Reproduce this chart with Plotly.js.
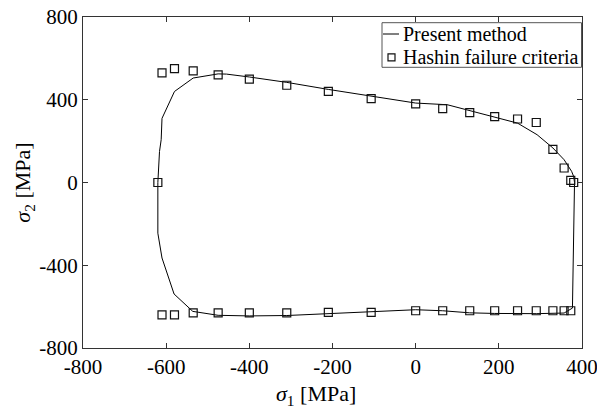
<!DOCTYPE html>
<html>
<head>
<meta charset="utf-8">
<script src="https://cdn.plot.ly/plotly-3.0.1.min.js"></script>
<style>html,body{margin:0;padding:0;background:#fff}#chart{width:597px;height:410px}</style>
</head>
<body>
<div id="chart"></div>
<script>
// Present method (closed failure envelope)
const methodX = [-620, -616, -612, -610, -580, -535, -475, -455, -400, -310, -210, -107, 0, 76, 130, 190, 245, 292, 330, 357, 375, 380, 382, 377, 357, 290, 245, 190, 130, 65, 0, -107, -210, -310, -400, -475, -536, -581, -610, -620, -620];
const methodY = [0, 150, 207, 310, 440, 505, 525, 524, 510, 484, 450, 416, 384, 376, 348, 319, 287, 231, 167, 110, 54, 29, 0, -607, -631, -634, -634, -633, -630, -620, -615, -624, -636, -643, -645, -642, -623, -539, -365, -245, 0];

// Hashin failure criteria points
const hashinTopX = [-610, -580, -535, -475, -400, -310, -210, -107, 0, 65, 130, 190, 245, 290, 330, 357, 373, 380];
const hashinTopY = [530, 550, 540, 520, 500, 470, 440, 405, 380, 357, 338, 318, 307, 290, 160, 70, 10, 0];
const hashinLeftX = [-620];
const hashinLeftY = [0];
const hashinBotX = [-610, -580, -535, -475, -400, -310, -210, -107, 0, 65, 130, 190, 245, 290, 330, 357, 373];
const hashinBotY = [-640, -640, -630, -630, -630, -630, -628, -628, -620, -620, -620, -620, -620, -620, -620, -620, -620];

const hashinX = hashinTopX.concat(hashinLeftX, hashinBotX);
const hashinY = hashinTopY.concat(hashinLeftY, hashinBotY);

const xTicks = [-800, -600, -400, -200, 0, 200, 400];
const yTicks = [-800, -400, 0, 400, 800];
const seriesNames = ['Present method', 'Hashin failure criteria'];

const fam = '"Liberation Serif", "Times New Roman", serif';
const tickFont = {family: fam, size: 21, color: '#000'};
const titleFont = {family: fam, size: 22, color: '#000'};
const legFont = {family: fam, size: 20, color: '#000'};

// plot-area geometry (pixels) used to place the hand-made legend
const W = 597, H = 410, ML = 83, MR = 15, MT = 17, MB = 62;
const PW = W - ML - MR, PH = H - MT - MB;
const px = v => (v - ML) / PW;
const py = v => (H - MB - v) / PH;

const traces = [
  {x: methodX, y: methodY, mode: 'lines', name: seriesNames[0],
   line: {color: '#000', width: 1}},
  {x: hashinX, y: hashinY, mode: 'markers', name: seriesNames[1],
   marker: {symbol: 'square-open', size: 8, color: '#111', line: {width: 1.2}}}
];

const axisCommon = {
  showline: true, mirror: 'ticks', linecolor: '#333', linewidth: 1,
  ticks: 'inside', ticklen: 5, tickcolor: '#333',
  showgrid: false, zeroline: false, tickfont: tickFont,
  ticklabeloverflow: 'allow'
};

const layout = {
  width: W, height: H,
  margin: {l: ML, r: MR, t: MT, b: MB},
  paper_bgcolor: '#fff', plot_bgcolor: '#fff',
  font: tickFont,
  showlegend: false,
  xaxis: Object.assign({}, axisCommon, {
    range: [-800, 400], tickvals: xTicks, ticktext: xTicks.map(String)
  }),
  yaxis: Object.assign({}, axisCommon, {
    range: [-800, 800], tickvals: yTicks, ticktext: yTicks.map(String),
    title: {text: '<i>σ</i><sub>2</sub> [MPa]', font: titleFont, standoff: 2}
  }),
  shapes: [
    {type: 'rect', xref: 'paper', yref: 'paper', x0: px(382), x1: px(581.5), y0: py(67.3), y1: py(22.7),
     line: {color: '#555', width: 1}, fillcolor: '#fff', layer: 'above'},
    {type: 'line', xref: 'paper', yref: 'paper', x0: px(383), x1: px(399), y0: py(34), y1: py(34),
     line: {color: '#000', width: 1}, layer: 'above'},
    {type: 'rect', xref: 'paper', yref: 'paper', x0: px(388), x1: px(395), y0: py(60.8), y1: py(53.8),
     line: {color: '#111', width: 1.2}, layer: 'above'}
  ],
  annotations: [
    {text: seriesNames[0], xref: 'paper', yref: 'paper', x: px(401), y: py(34),
     xanchor: 'left', yanchor: 'middle', showarrow: false, font: legFont},
    {text: seriesNames[1], xref: 'paper', yref: 'paper', x: px(401), y: py(57.3),
     xanchor: 'left', yanchor: 'middle', showarrow: false, font: legFont},
    {text: '<i>σ</i><sub>1</sub> [MPa]', xref: 'paper', yref: 'paper', x: px(316), y: py(395),
     xanchor: 'center', yanchor: 'middle', showarrow: false, font: titleFont}
  ]
};

Plotly.newPlot('chart', traces, layout, {displayModeBar: false, staticPlot: true});
</script>
</body>
</html>
